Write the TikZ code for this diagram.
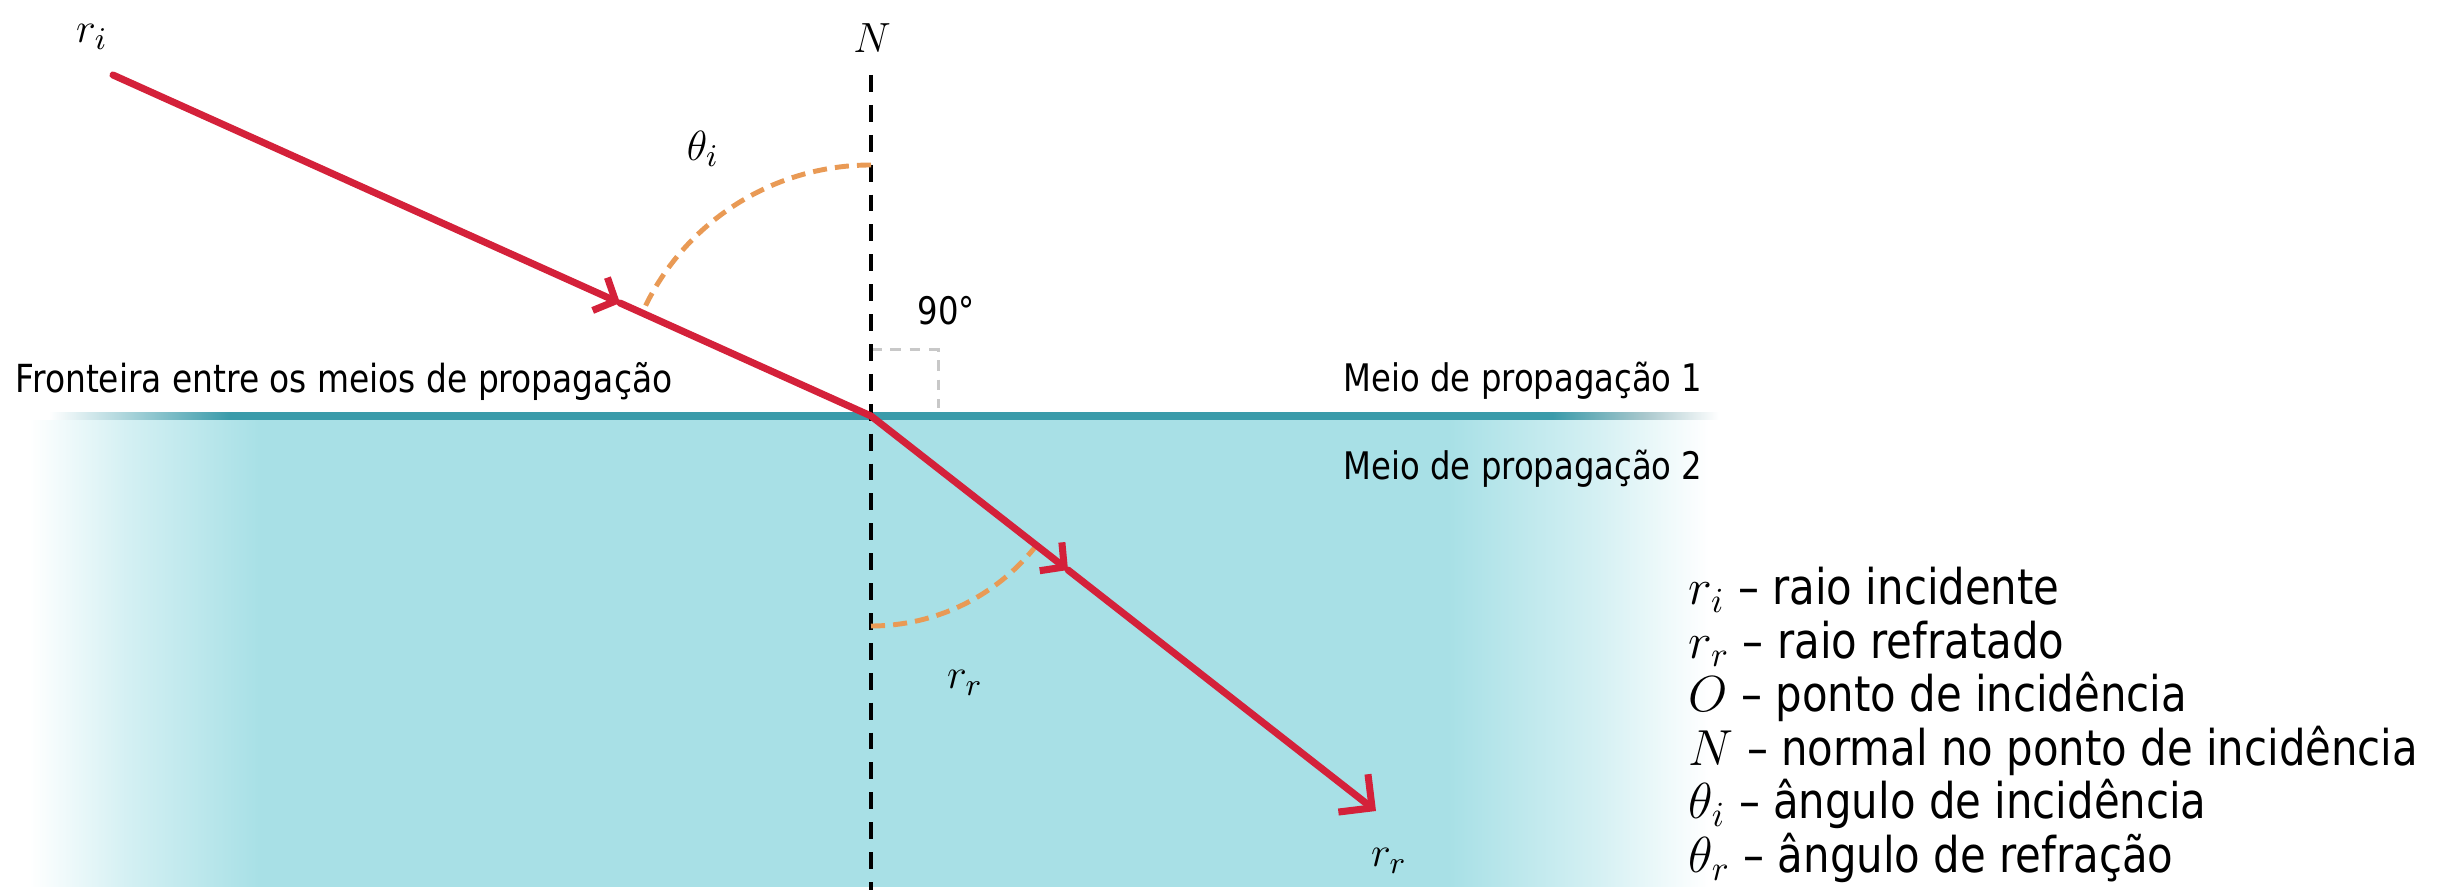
\documentclass[tikz,border=0pt]{standalone}
\usepackage{fontspec}
\setmainfont[FakeStretch=0.85]{DejaVu Sans}
\usetikzlibrary{arrows.meta}
\definecolor{raycol}{RGB}{212,33,58}
\definecolor{arccol}{RGB}{233,154,85}
\definecolor{tealc}{RGB}{58,155,170}
\definecolor{tealfade}{RGB}{170,200,205}
\definecolor{cyanbg}{RGB}{168,224,230}
\definecolor{cyanmid}{RGB}{212,240,243}
\definecolor{markgray}{RGB}{200,200,200}
\pgfdeclarehorizontalshading{medshade}{100bp}{color(0bp)=(white); color(25.6bp)=(white); color(27.6bp)=(cyanmid); color(30.3bp)=(cyanbg); color(54.6bp)=(cyanbg); color(57.6bp)=(cyanmid); color(59.9bp)=(white); color(100bp)=(white)}
\pgfdeclarehorizontalshading{lineshade}{100bp}{color(0bp)=(white); color(26.0bp)=(white); color(29.7bp)=(tealc); color(56.7bp)=(tealc); color(58.6bp)=(tealfade); color(60.1bp)=(white); color(100bp)=(white)}
\begin{document}
\begin{tikzpicture}[x=0.01cm,y=0.01cm,
  ray/.style={draw=raycol, line width=2pt, line cap=round, line join=round},
  midtip/.style={-{Straight Barb[length=0.17cm,width=0.36cm,line width=2pt]}},
  endtip/.style={-{Straight Barb[length=0.24cm,width=0.48cm,line width=2pt]}},
  normalln/.style={draw=black, line width=1.4pt, dash pattern=on 4.8pt off 3.7pt},
  anglearc/.style={draw=arccol, line width=1.4pt, dash pattern=on 4pt off 2.3pt},
  rightang/.style={draw=markgray, line width=0.85pt, dash pattern=on 3pt off 2.5pt},
  lbl/.style={inner sep=0pt, font=\fontsize{10.8pt}{13pt}\selectfont},
  flbl/.style={inner sep=0pt, font=\fontsize{11pt}{13pt}\selectfont},
  mlbl/.style={inner sep=0pt, font=\fontsize{13pt}{15pt}\selectfont},
  leg/.style={inner sep=0pt, anchor=base west, font=\fontsize{14pt}{16pt}\selectfont}]
\fill[white] (0,0) rectangle (2448,894);
\useasboundingbox (0,0) rectangle (2448,894);

% medium 2 and interface
\shade[shading=medshade] (0,7) rectangle (2448,478);
\shade[shading=lineshade] (0,474.5) rectangle (2448,481.5);

% points
\coordinate (S) at (113,819);
\coordinate (O) at (871,478);
\coordinate (Im) at (620,591);
\coordinate (Rm) at (1068,324);
\coordinate (E) at (1376,83);
\coordinate (Nt) at (871,819);
\coordinate (Nb) at (871,4);

% right angle marker
\draw[rightang] (871,544) -| (938,486);

% normal
\draw[normalln] (Nt) -- (Nb);

% angle arcs
\draw[anglearc] ([shift={(90:251)}]O) arc[start angle=90,end angle=155.8,radius=251];
\draw[anglearc] ([shift={(-90:210)}]O) arc[start angle=-90,end angle=-38,radius=210];

% rays
\draw[ray,midtip] (S) -- (Im);
\draw[ray] (Im) -- (O);
\draw[ray,midtip] (O) -- (Rm);
\draw[ray,endtip] (Rm) -- (E);

% labels
\node[mlbl] (lri) at (92,857) {$r_i$};
\node[mlbl] (lN) at (872,856) {$N$};
\node[mlbl] (lthi) at (703,745) {$\theta_i$};
\node[mlbl] (lrr1) at (965,211) {$r_r$};
\node[mlbl] (lrr2) at (1389,33) {$r_r$};
\node[lbl, anchor=base west] (l90) at (917,569) {90°};
\node[flbl, anchor=base west] (lfront) at (15,501) {Fronteira entre os meios de propagação};
\node[lbl, anchor=base west] (lm1) at (1343,502) {Meio de propagação 1};
\node[lbl, anchor=base west] (lm2) at (1343,414) {Meio de propagação 2};

% legend
\node[leg] (g1) at (1688,289) {$r_i$ – raio incidente};
\node[leg] (g2) at (1688,235.5) {$r_r$ – raio refratado};
\node[leg] (g3) at (1688,182) {$O$ – ponto de incidência};
\node[leg] (g4) at (1688,128.5) {$N$ – normal no ponto de incidência};
\node[leg] (g5) at (1688,75) {$\theta_i$ – ângulo de incidência};
\node[leg] (g6) at (1688,21.5) {$\theta_r$ – ângulo de refração};
\end{tikzpicture}
\end{document}
